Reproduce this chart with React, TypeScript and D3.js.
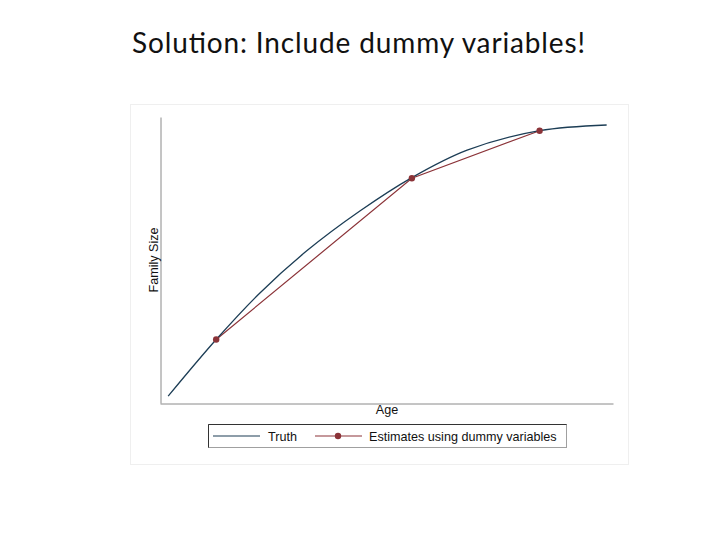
import { useEffect, useRef } from 'react';
import * as d3 from 'd3';

// true curve (age, family size)
const truthAge = [20.9, 26.2, 31.0, 36.2, 42.1, 47.8, 53.9, 61.9, 69.3];
const truthSize = [1.12, 2.11, 2.92, 3.66, 4.36, 4.94, 5.42, 5.76, 5.86];

// dummy-variable estimates
const estAge = [26.2, 47.8, 61.9];
const estSize = [2.11, 4.93, 5.76];

const legendLabels = ['Truth', 'Estimates using dummy variables'];

const NAVY = '#1c3d55';
const MAROON = '#8b3338';
const AXIS = '#8a8a8a';
const FONT = "'Liberation Sans', Arial, sans-serif";
const FS = 12.6;

export default function App() {
  const svgRef = useRef<SVGSVGElement>(null);

  useEffect(() => {
    if (!svgRef.current) return;
    const svg = d3.select(svgRef.current);
    svg.selectAll('*').remove();

    const x = d3.scaleLinear().domain([20, 70]).range([160, 613]);
    const y = d3.scaleLinear().domain([1, 6]).range([403, 117]);

    svg
      .append('text')
      .attr('x', 132)
      .attr('y', 53)
      .attr('font-family', "Lato, 'Open Sans', sans-serif")
      .attr('font-size', 28)
      .attr('textLength', 453)
      .attr('lengthAdjust', 'spacing')
      .attr('fill', '#111')
      .text('Solution: Include dummy variables!');

    // faint outer graph region
    svg
      .append('rect')
      .attr('x', 130.5)
      .attr('y', 104.5)
      .attr('width', 498)
      .attr('height', 360)
      .attr('fill', 'none')
      .attr('stroke', '#efefef');

    // axes without ticks
    svg
      .append('g')
      .attr('transform', `translate(0,${y(1) + 0.5})`)
      .call(d3.axisBottom(x).ticks(0).tickSize(0).tickSizeOuter(0))
      .call((g) => g.select('.domain').attr('stroke', AXIS));
    svg
      .append('g')
      .attr('transform', `translate(${x(20) + 0.5},0)`)
      .call(d3.axisLeft(y).ticks(0).tickSize(0).tickSizeOuter(0))
      .call((g) => g.select('.domain').attr('stroke', AXIS));

    const truth = truthAge.map((a, i) => [a, truthSize[i]] as [number, number]);
    const est = estAge.map((a, i) => [a, estSize[i]] as [number, number]);

    const line = d3
      .line<[number, number]>()
      .x((d) => x(d[0]))
      .y((d) => y(d[1]));

    svg
      .append('path')
      .attr('d', line(est))
      .attr('fill', 'none')
      .attr('stroke', MAROON)
      .attr('stroke-width', 1.2);

    svg
      .append('path')
      .attr('d', line.curve(d3.curveCatmullRom)(truth))
      .attr('fill', 'none')
      .attr('stroke', NAVY)
      .attr('stroke-width', 1.3);

    svg
      .selectAll('circle.est')
      .data(est)
      .join('circle')
      .attr('class', 'est')
      .attr('cx', (d) => x(d[0]))
      .attr('cy', (d) => y(d[1]))
      .attr('r', 3.2)
      .attr('fill', MAROON);

    svg
      .append('text')
      .attr('x', 387)
      .attr('y', 414)
      .attr('text-anchor', 'middle')
      .attr('font-family', FONT)
      .attr('font-size', FS)
      .attr('fill', '#111')
      .text('Age');

    svg
      .append('text')
      .attr('transform', 'translate(157.5,260) rotate(-90)')
      .attr('text-anchor', 'middle')
      .attr('font-family', FONT)
      .attr('font-size', FS)
      .attr('fill', '#111')
      .text('Family Size');

    // legend
    const lg = svg.append('g').attr('transform', 'translate(208,424)');
    lg.append('rect')
      .attr('x', 0.5)
      .attr('y', 0.5)
      .attr('width', 358)
      .attr('height', 23)
      .attr('fill', '#fff')
      .attr('stroke', '#a0a0a0');
    lg.append('path').attr('d', 'M0.5,0.5V23.5M0.5,0.5H358.5').attr('stroke', '#333');

    lg.append('line')
      .attr('x1', 5)
      .attr('x2', 52)
      .attr('y1', 12)
      .attr('y2', 12)
      .attr('stroke', NAVY)
      .attr('stroke-width', 1.2);
    lg.append('text')
      .attr('x', 60)
      .attr('y', 16.5)
      .attr('font-family', FONT)
      .attr('font-size', FS)
      .attr('fill', '#111')
      .text(legendLabels[0]);

    lg.append('line')
      .attr('x1', 107)
      .attr('x2', 154)
      .attr('y1', 12)
      .attr('y2', 12)
      .attr('stroke', MAROON)
      .attr('stroke-width', 1.2);
    lg.append('circle').attr('cx', 130).attr('cy', 12).attr('r', 3.2).attr('fill', MAROON);
    lg.append('text')
      .attr('x', 161)
      .attr('y', 16.5)
      .attr('font-family', FONT)
      .attr('font-size', FS)
      .attr('fill', '#111')
      .text(legendLabels[1]);
  }, []);

  return (
    <div style={{ position: 'fixed', left: 0, top: 0, width: 720, height: 540, background: '#fff' }}>
      <svg ref={svgRef} width={720} height={540} viewBox="0 0 720 540" />
    </div>
  );
}
